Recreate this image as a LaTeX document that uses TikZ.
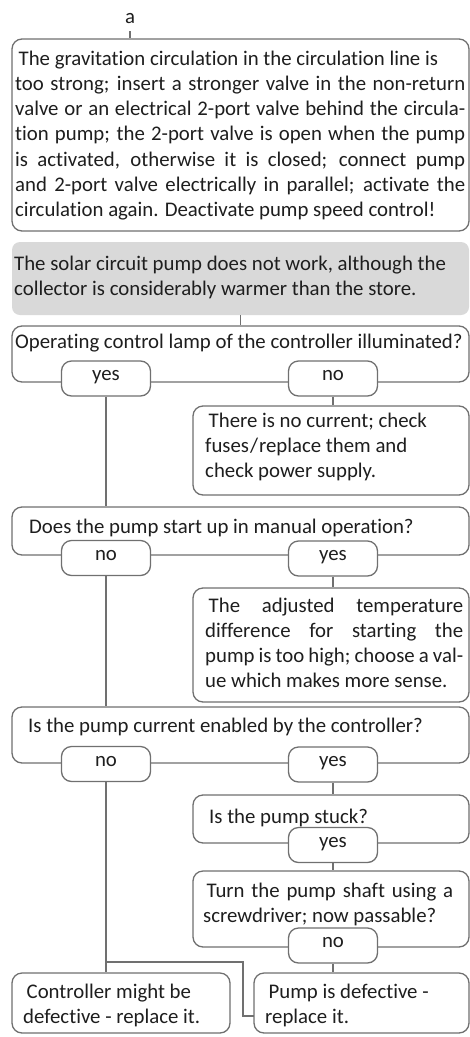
\documentclass[tikz,border=0pt]{standalone}
\usepackage{fontspec}
\setmainfont[Ligatures=NoCommon]{Carlito}
\usetikzlibrary{fit}
\definecolor{ln}{RGB}{112,112,112}
\definecolor{hd}{RGB}{217,217,217}
\definecolor{tx}{RGB}{30,30,30}
\newcommand\fsz{\fontsize{20.8}{25.3}\selectfont}
\newcommand\jl[2]{\makebox[#1][s]{#2}}
\newcommand\lead{\hspace*{3.5pt}}
\tikzset{
  box/.style={draw=ln, line width=1.3pt, rounded corners=10pt, fill=white, inner sep=0pt},
  pill/.style={draw=ln, line width=1.3pt, rounded corners=10pt, fill=white, inner sep=0pt,
               text=tx, font=\fsz, text height=1ex, text depth=0pt,
               minimum height=35pt, minimum width=89pt},
  hdrbox/.style={fill=hd, rounded corners=8pt, inner sep=0pt},
  txt/.style={inner sep=0pt, anchor=base west, text=tx, font=\fsz},
  conn/.style={draw=ln, line width=1.3pt},
}
\begin{document}
\begin{tikzpicture}[x=1pt,y=-1pt]
\useasboundingbox (0,0) rectangle (470,1037);

% label a
\node[txt, anchor=base] (a) at (130,23) {a};

% top box
\node[box, fit={(12,39) (469,231)}] (b1) {};
\node[txt] (t1) at (15,65) {\parbox[t]{450pt}{%
\lead The gravitation circulation in the circulation line is\\
\jl{450pt}{too strong; insert a stronger valve in the non-return}\\
\jl{450pt}{valve or an electrical 2-port valve behind the circula-}\\
\jl{450pt}{tion pump; the 2-port valve is open when the pump}\\
\jl{450pt}{is activated, otherwise it is closed; connect pump}\\
\jl{450pt}{and 2-port valve electrically in parallel; activate the}\\
circulation again. Deactivate pump speed control!}};

% header
\node[hdrbox, fit={(12,242) (469,315)}] (hdr) {};
\node[txt] (th) at (14,270) {\parbox[t]{452pt}{%
The solar circuit pump does not work, although the\\
collector is considerably warmer than the store.}};

% question 1
\node[box, fit={(12,326) (469,382)}] (q1) {};
\node[pill] (yes1) at (106,378.5) {yes};
\node[pill] (no1) at (333,378.5) {no};
\node[txt] (tq1) at (15,348) {Operating control lamp of the controller illuminated?};

% answer 1
\node[box, fit={(193,406) (469,495)}] (a1) {};
\node[txt] (ta1) at (205,427) {\parbox[t]{260pt}{%
\lead There is no current; check\\
fuses\kern1pt/\kern1pt replace them and\\
check power supply.}};

% question 2
\node[box, fit={(12,507) (469,555)}] (q2) {};
\node[pill] (no2) at (106,558) {no};
\node[pill] (yes2) at (333,558.5) {yes};
\node[txt] (tq2) at (29,533) {Does the pump start up in manual operation?};

% answer 2
\node[box, fit={(193,588) (469,702)}] (a2) {};
\node[txt] (ta2) at (205,612) {\parbox[t]{260pt}{%
\jl{258pt}{\lead The adjusted temperature}\\
\jl{258pt}{difference for starting the}\\
\jl{258pt}{pump is too high; choose a val-}\\
ue which makes more sense.}};

% question 3
\node[box, fit={(12,707) (469,763)}] (q3) {};
\node[pill] (no3) at (106,764) {no};
\node[pill] (yes3) at (333,764.5) {yes};
\node[txt] (tq3) at (28,732) {Is the pump current enabled by the controller?};

% question 4
\node[box, fit={(193,795) (469,843)}] (q4) {};
\node[pill] (yes4) at (333,845) {yes};
\node[txt] (tq4) at (209,823) {Is the pump stuck?};

% question 5
\node[box, fit={(193,871) (469,947)}] (q5) {};
\node[pill] (no5) at (333,945.5) {no};
\node[txt] (tq5) at (203,897) {\parbox[t]{260pt}{%
\jl{250pt}{\lead Turn the pump shaft using a}\\
screwdriver; now passable?}};

% end boxes
\node[box, fit={(12,973) (230,1033)}] (e1) {};
\node[txt] (te1) at (23,998) {\parbox[t]{205pt}{%
\lead Controller might be\\
defective - replace it.}};
\node[box, fit={(254,973) (469,1033)}] (e2) {};
\node[txt] (te2) at (265,998) {\parbox[t]{200pt}{%
\lead Pump is defective -\\
replace it.}};

% connectors
\coordinate (k1) at (243,962);
\coordinate (k2) at (254,1016);
\draw[conn, shorten <=8pt] (a.south) -- (a.south |- b1.north);
\draw[conn] (hdr.south) -- (hdr.south |- q1.north);
\draw[conn] (yes1.south) -- (yes1.south |- q2.north);
\draw[conn] (no1.south) -- (no1.south |- a1.north);
\draw[conn] (no2.south) -- (no2.south |- q3.north);
\draw[conn] (yes2.south) -- (yes2.south |- a2.north);
\draw[conn] (yes3.south) -- (yes3.south |- q4.north);
\draw[conn] (yes4.south) -- (yes4.south |- q5.north);
\draw[conn] (no5.south) -- (no5.south |- e2.north);
\draw[conn] (no3.south) -- (no3.south |- e1.north);
\draw[conn] (no3.south |- k1) -- (k1) |- (k2);
\end{tikzpicture}
\end{document}
